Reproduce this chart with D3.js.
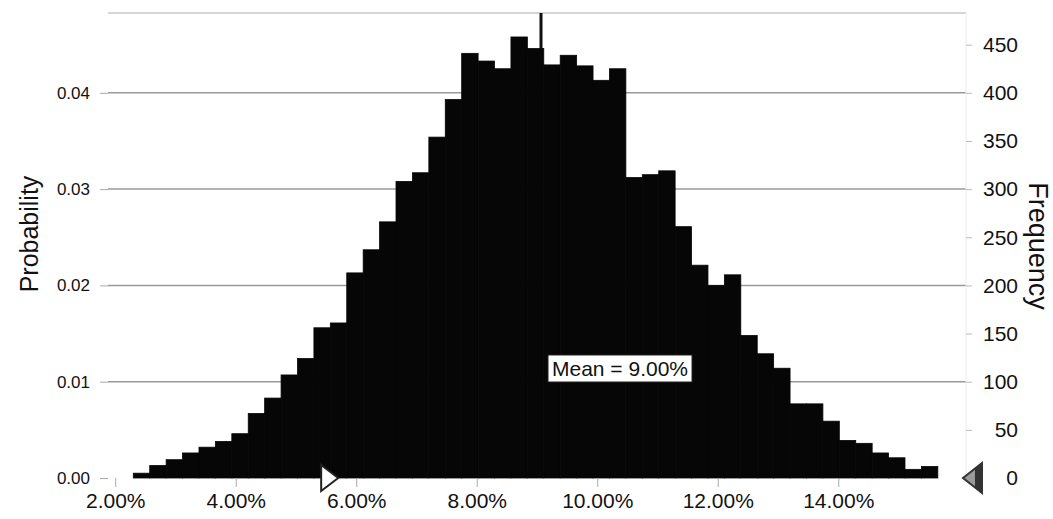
<!DOCTYPE html>
<html>
<head>
<meta charset="utf-8">
<script src="https://cdn.jsdelivr.net/npm/d3@7"></script>
<style>
  body { margin: 0; background: #fff; }
  text { font-family: "Liberation Sans", Arial, sans-serif; fill: #111; }
</style>
</head>
<body>
<div id="chart"></div>
<script>
// histogram of 10,000 trials, 49 bins starting at 2.30%
const binStart = 2.30;
const binWidth = 0.2725;
const counts = [5, 13, 19, 26, 32, 38, 46, 67, 83, 107,
                124, 156, 161, 213, 237, 266, 308, 317, 354, 393,
                441, 433, 425, 458, 446, 429, 439, 428, 413, 425,
                312, 315, 319, 261, 221, 200, 211, 148, 129, 114,
                77, 77, 59, 39, 36, 26, 21, 9, 12];
const trials = 10000;
const meanValue = 9.00;

const xTicks = [2, 4, 6, 8, 10, 12, 14];
const probTicks = [0, 0.01, 0.02, 0.03, 0.04];
const freqTicks = [0, 50, 100, 150, 200, 250, 300, 350, 400, 450];
const gridTicks = [0.01, 0.02, 0.03, 0.04];

// certainty grabbers along the bottom
const leftGrab = 5.70;
const rightGrab = 16.07;

var margin = {top: 13, right: 87, bottom: 41, left: 108},
    width = 1053 - margin.left - margin.right,
    height = 519 - margin.top - margin.bottom;

var svg = d3.select("#chart")
  .append("svg")
  .attr("width", 1053)
  .attr("height", 519)
  .append("g")
  .attr("transform", "translate(" + margin.left + "," + margin.top + ")");

var x = d3.scaleLinear()
  .domain([1.88, 16.12])
  .range([0, width]);

var yMax = 0.04829;
var yProb = d3.scaleLinear()
  .domain([0, yMax])
  .range([height, 0]);

var yFreq = d3.scaleLinear()
  .domain([0, yMax * trials])
  .range([height, 0]);

// grid
svg.append("g")
  .selectAll("line")
  .data(gridTicks)
  .enter()
  .append("line")
  .attr("x1", 0)
  .attr("x2", width)
  .attr("y1", d => yProb(d))
  .attr("y2", d => yProb(d))
  .style("stroke", "#9a9a9a")
  .style("stroke-width", 1.5);

svg.append("line")
  .attr("x1", 0).attr("x2", width)
  .attr("y1", 0).attr("y2", 0)
  .style("stroke", "#c8c8c8")
  .style("stroke-width", 1.5);

svg.append("line")
  .attr("x1", width).attr("x2", width)
  .attr("y1", 0).attr("y2", height)
  .style("stroke", "#ececec")
  .style("stroke-width", 1);

// mean line (only shows above the bars)
svg.append("line")
  .attr("x1", x(meanValue) + 4)
  .attr("x2", x(meanValue) + 4)
  .attr("y1", 0)
  .attr("y2", height)
  .style("stroke", "#111")
  .style("stroke-width", 3);

// bars
svg.append("g")
  .selectAll("rect")
  .data(counts)
  .enter()
  .append("rect")
  .attr("x", (d, i) => x(binStart + i * binWidth))
  .attr("width", (d, i) => x(binStart + (i + 1) * binWidth) - x(binStart + i * binWidth))
  .attr("y", d => yFreq(d))
  .attr("height", d => height - yFreq(d))
  .style("fill", "#060606")
  .style("stroke", "#060606")
  .style("stroke-width", 0.8);

// axes
var xAxis = svg.append("g")
  .attr("transform", "translate(0," + height + ")")
  .call(d3.axisBottom(x).tickValues(xTicks).tickSize(9).tickPadding(6)
    .tickFormat(d => d.toFixed(2) + "%"));
xAxis.select(".domain").remove();
xAxis.selectAll("line").style("stroke", "#aaa");
xAxis.selectAll("text").style("font-size", "21px").style("fill", "#111");

var leftAxis = svg.append("g")
  .call(d3.axisLeft(yProb).tickValues(probTicks).tickSize(8).tickPadding(10)
    .tickFormat(d3.format(".2f")));
leftAxis.select(".domain").remove();
leftAxis.selectAll("line").style("stroke", "#aaa");
leftAxis.selectAll("text").style("font-size", "17px").style("fill", "#111");

var rightAxis = svg.append("g")
  .attr("transform", "translate(" + width + ",0)")
  .call(d3.axisRight(yFreq).tickValues(freqTicks).tickSize(6));
rightAxis.select(".domain").remove();
rightAxis.selectAll("line").style("stroke", "#bbb");
rightAxis.selectAll("text")
  .attr("x", 52)
  .style("text-anchor", "end")
  .style("font-size", "21px")
  .style("fill", "#111");

// axis titles
svg.append("text")
  .attr("transform", "translate(" + (29 - margin.left) + "," + (234 - margin.top) + ") rotate(-90)")
  .attr("dy", "0.35em")
  .style("text-anchor", "middle")
  .style("font-size", "25px")
  .text("Probability");

svg.append("text")
  .attr("transform", "translate(" + (width + 72) + "," + (246 - margin.top) + ") rotate(90)")
  .attr("dy", "0.35em")
  .style("text-anchor", "middle")
  .style("font-size", "27px")
  .text("Frequency");

// mean label
var meanG = svg.append("g")
  .attr("transform", "translate(" + (x(meanValue) + 11) + "," + (height - 123) + ")");
var meanText = meanG.append("text")
  .attr("x", 4)
  .attr("y", 14)
  .attr("dy", "0.35em")
  .style("font-size", "21px")
  .text("Mean = " + meanValue.toFixed(2) + "%");
var bb = meanText.node().getBBox();
meanG.insert("rect", "text")
  .attr("x", 0)
  .attr("y", 0)
  .attr("width", bb.width + 8)
  .attr("height", 27)
  .style("fill", "#fff")
  .style("stroke", "#222")
  .style("stroke-width", 1);

// grabbers
var lx = x(leftGrab);
svg.append("path")
  .attr("d", "M" + (lx - 17) + "," + (height - 13) + "L" + lx + "," + height + "L" + (lx - 17) + "," + (height + 13) + "Z")
  .style("fill", "#fff")
  .style("stroke", "#222")
  .style("stroke-width", 2);

var rx = x(rightGrab);
svg.append("path")
  .attr("d", "M" + rx + "," + height + "L" + (rx + 19) + "," + (height - 15) + "L" + (rx + 19) + "," + (height + 15) + "Z")
  .style("fill", "#9a9a9a")
  .style("stroke", "#333")
  .style("stroke-width", 2);
svg.append("path")
  .attr("d", "M" + (rx + 12) + "," + (height - 9) + "L" + (rx + 19) + "," + (height - 15) + "L" + (rx + 19) + "," + (height + 15) + "L" + (rx + 12) + "," + (height + 9) + "Z")
  .style("fill", "#333");
</script>
</body>
</html>
